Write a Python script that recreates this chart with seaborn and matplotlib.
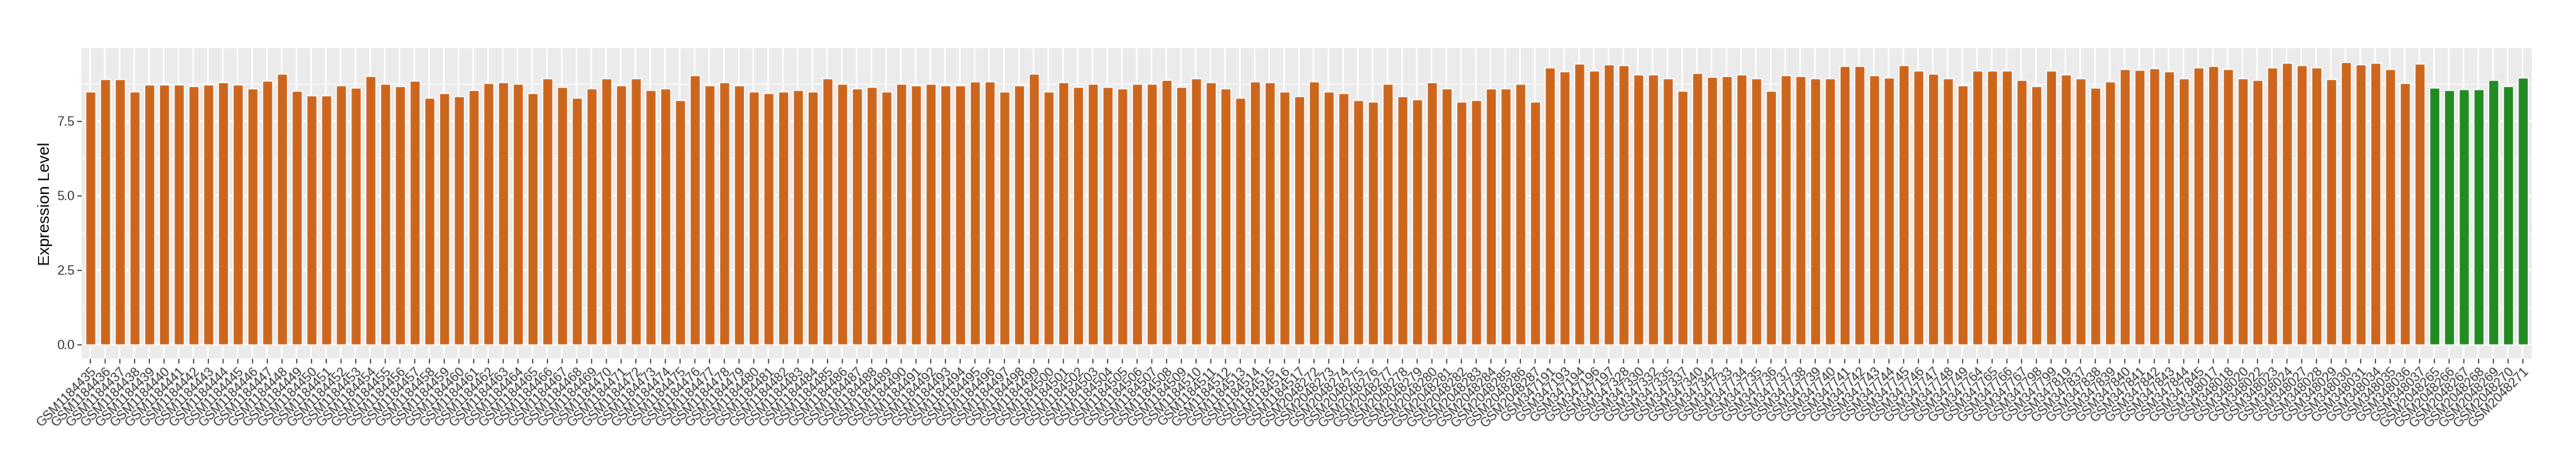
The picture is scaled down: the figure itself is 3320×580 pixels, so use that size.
import matplotlib
matplotlib.use("Agg")
import matplotlib.pyplot as plt
import seaborn as sns
import numpy as np
import pandas as pd
from matplotlib.ticker import MultipleLocator

# --- sample ids ---
ids_1184 = [f"GSM{n}" for n in range(1184435, 1184518)]
ids_2048a = [f"GSM{n}" for n in range(2048272, 2048288)]
ids_347 = ["GSM347191", "GSM347193", "GSM347194", "GSM347196", "GSM347197",
           "GSM347328", "GSM347330", "GSM347332", "GSM347335", "GSM347337",
           "GSM347340", "GSM347342"] + \
          [f"GSM{n}" for n in range(347733, 347750)] + \
          ["GSM347764", "GSM347765", "GSM347766", "GSM347767",
           "GSM347798", "GSM347799", "GSM347819"] + \
          [f"GSM{n}" for n in range(347837, 347846)] + \
          ["GSM348017", "GSM348018", "GSM348020", "GSM348022", "GSM348023",
           "GSM348024", "GSM348027", "GSM348028", "GSM348029", "GSM348030",
           "GSM348031", "GSM348034", "GSM348035", "GSM348036", "GSM348037"]
ids_2048b = [f"GSM{n}" for n in range(2048265, 2048272)]

# --- expression values ---
vals_1184 = [8.49, 8.92, 8.92, 8.49, 8.74, 8.74, 8.74, 8.68, 8.74, 8.82,
             8.74, 8.60, 8.87, 9.11, 8.52, 8.38, 8.36, 8.71, 8.63, 9.01,
             8.76, 8.68, 8.87, 8.29, 8.44, 8.33, 8.55, 8.78, 8.80, 8.75,
             8.45, 8.95, 8.65, 8.30, 8.60, 8.95, 8.70, 8.95, 8.55, 8.60,
             8.20, 9.05, 8.70, 8.80, 8.70, 8.50, 8.45, 8.50, 8.55, 8.50,
             8.95, 8.75, 8.60, 8.65, 8.50, 8.75, 8.70, 8.75, 8.70, 8.72,
             8.85, 8.85, 8.50, 8.70, 9.10, 8.50, 8.80, 8.65, 8.75, 8.65,
             8.60, 8.75, 8.75, 8.90, 8.65, 8.95, 8.80, 8.60, 8.30, 8.85,
             8.80, 8.50, 8.35]
vals_2048a = [8.85, 8.50, 8.45, 8.20, 8.15, 8.75, 8.35, 8.25, 8.80, 8.60,
              8.15, 8.20, 8.60, 8.60, 8.75, 8.15]
vals_347 = [9.31, 9.18, 9.45, 9.20, 9.42, 9.39, 9.07, 9.07, 8.93, 8.52,
            9.12, 8.99, 9.01, 9.07, 8.93, 8.52, 9.04, 9.01, 8.93, 8.93,
            9.37, 9.37, 9.04, 8.96, 9.39, 9.20, 9.09, 8.93, 8.71, 9.20,
            9.20, 9.20, 8.88, 8.69, 9.20, 9.07, 8.93, 8.63, 8.85, 9.26,
            9.24, 9.28, 9.18, 8.94, 9.31,
            9.36, 9.26, 8.94, 8.88, 9.31, 9.47, 9.39, 9.31, 8.91, 9.49,
            9.41, 9.47, 9.26, 8.78, 9.44]
vals_2048b = [8.64, 8.54, 8.59, 8.59, 8.88, 8.67, 8.96]

samples = ids_1184 + ids_2048a + ids_347 + ids_2048b
values = vals_1184 + vals_2048a + vals_347 + vals_2048b
groups = ["tumor"] * (len(ids_1184) + len(ids_2048a) + len(ids_347)) + ["normal"] * len(ids_2048b)

df = pd.DataFrame({"sample": samples, "value": values, "group": groups})

sns.set_theme(style="darkgrid")
plt.rcParams["font.family"] = ["Liberation Sans", "DejaVu Sans"]

fig = plt.figure(figsize=(33.2, 5.8), dpi=100)
ax = fig.add_axes([0.0316, 0.2034, 0.9512, 0.6897])

sns.barplot(data=df, x="sample", y="value", hue="group",
            palette={"tumor": "#CD661D", "normal": "#228B22"},
            dodge=False, width=0.68, saturation=1, legend=False, ax=ax)

ax.set_facecolor("#EBEBEB")
ax.set_axisbelow(True)
for s in ax.spines.values():
    s.set_visible(False)

ax.set_xlim(-0.6, len(samples) - 0.4)
ax.set_ylim(-0.4745, 9.96)
ax.yaxis.set_major_locator(MultipleLocator(2.5))
ax.yaxis.set_minor_locator(MultipleLocator(1.25))
ax.set_yticks([0, 2.5, 5, 7.5])
ax.set_yticklabels(["0.0", "2.5", "5.0", "7.5"])
ax.grid(which="major", color="white", linewidth=1.6)
ax.grid(which="minor", axis="y", color="white", linewidth=0.8)

ax.tick_params(axis="both", which="major", direction="out", length=4, width=1.0,
               color="#333333", labelcolor="#333333", labelsize=12, pad=2,
               bottom=True, left=True)
ax.tick_params(axis="y", which="minor", length=0)
plt.setp(ax.get_xticklabels(), rotation=45, ha="right", rotation_mode="anchor")

ax.set_xlabel("")
ax.set_ylabel("Expression Level", fontsize=15, color="black", labelpad=4)

fig.savefig("out.png", dpi=100, facecolor="white")
